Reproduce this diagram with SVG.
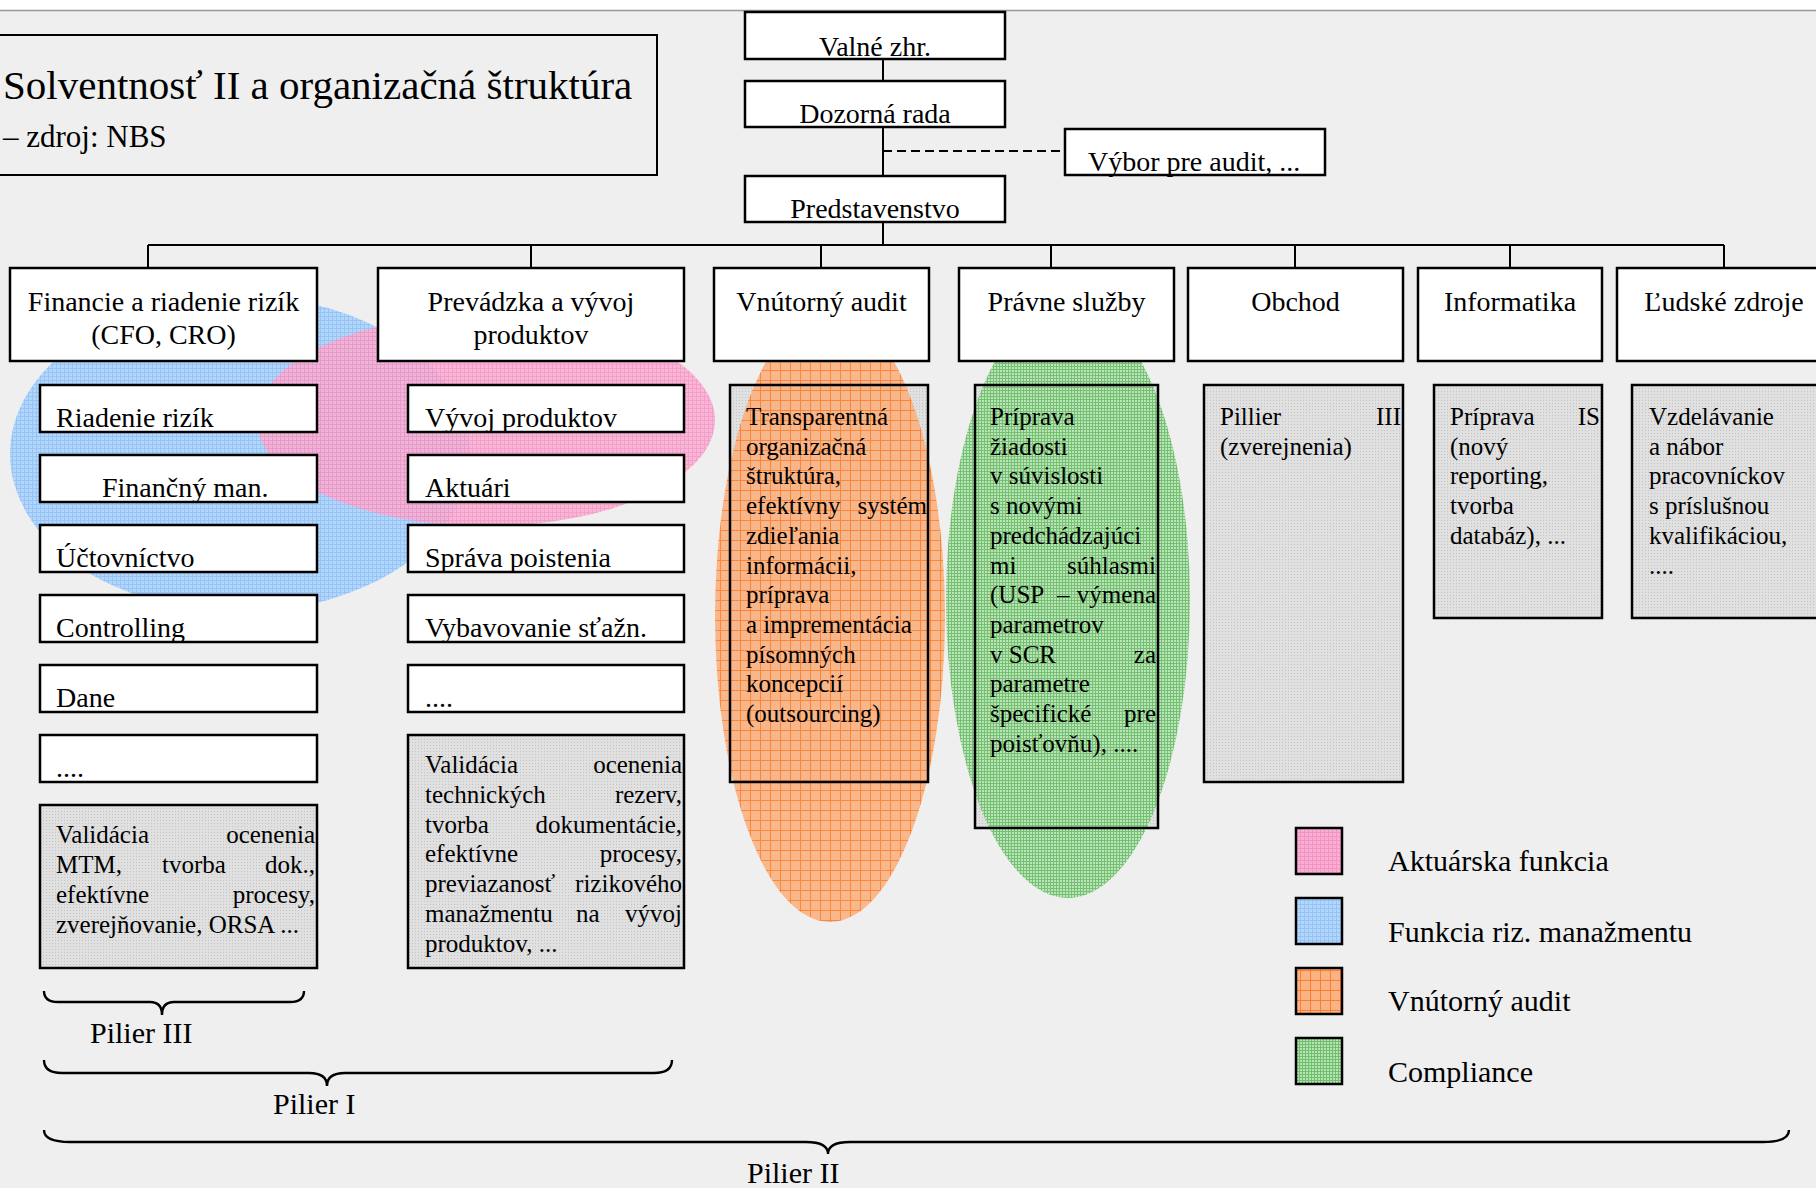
<svg xmlns="http://www.w3.org/2000/svg" width="1816" height="1188" viewBox="0 0 1816 1188">
<defs>
<pattern id="pBlue" patternUnits="userSpaceOnUse" width="4" height="4"><rect width="4" height="4" fill="#b2d6fc"/><path d="M0 0.5H4M0.5 0V4" stroke="#98c4f5" stroke-width="1"/></pattern>
<pattern id="pPink" patternUnits="userSpaceOnUse" width="4" height="4"><rect width="4" height="4" fill="#f9afd3"/><path d="M0 0.5H4M0.5 0V4" stroke="#f394c3" stroke-width="1"/></pattern>
<pattern id="pOrange" patternUnits="userSpaceOnUse" width="10" height="10"><rect width="10" height="10" fill="#fab385"/><path d="M0 0.5H10M0.5 0V10" stroke="#fb7f2e" stroke-width="1"/></pattern>
<pattern id="pGreen" patternUnits="userSpaceOnUse" width="3" height="3"><rect width="3" height="3" fill="#b9e2b6"/><path d="M0 0.5H3M0.5 0V3" stroke="#6fbf6c" stroke-width="1"/></pattern>
<pattern id="pGray" patternUnits="userSpaceOnUse" width="3" height="3"><rect width="3" height="3" fill="#e0e0e0"/><rect x="1" y="1" width="1" height="1" fill="#c4c4c4"/></pattern>
</defs>
<style>
.t{font-family:"Liberation Serif","Times New Roman",serif;fill:#000}
.h{font-size:28px}
.b{font-size:25px}
.l{font-size:30px}
.c{text-anchor:middle}
.e{text-anchor:end}
.box{fill:#fff;stroke:#000;stroke-width:2.5}
.gfill{fill:url(#pGray)}
.outl{fill:none;stroke:#000;stroke-width:2.5}
.conn{fill:none;stroke:#000;stroke-width:2}
.brace{fill:none;stroke:#000;stroke-width:2.4}
</style>
<rect width="1816" height="1188" fill="#efefef"/>
<rect width="1816" height="10" fill="#ffffff"/>
<line x1="0" y1="10.5" x2="1816" y2="10.5" stroke="#999" stroke-width="1.5"/>

<g id="title">
<rect x="-2" y="35" width="659" height="140" fill="none" stroke="#000" stroke-width="2"/>
<text class="t" x="3" y="99" font-size="41">Solventnosť II a organizačná štruktúra</text>
<text class="t" x="3" y="147" font-size="31">– zdroj: NBS</text>
</g>

<g id="functions-back">
<ellipse cx="240" cy="454" rx="230" ry="158" fill="url(#pBlue)"/>
<ellipse cx="486" cy="420" rx="229" ry="106" fill="url(#pPink)" opacity="0.88"/>
</g>

<g id="connectors">
<line class="conn" x1="883" y1="59" x2="883" y2="81"/>
<line class="conn" x1="883" y1="127" x2="883" y2="176"/>
<line class="conn" x1="883" y1="151" x2="1065" y2="151" stroke-dasharray="9 5"/>
<line class="conn" x1="883" y1="222" x2="883" y2="245"/>
<line class="conn" x1="148" y1="245" x2="1724" y2="245"/>
<path class="conn" d="M148 245V268M531 245V268M821 245V268M1051 245V268M1295 245V268M1510 245V268M1724 245V268"/>
</g>

<g id="n-valne">
<rect class="box" x="745" y="12" width="260" height="47"/>
<text class="t h c" x="875" y="56">Valné zhr.</text>
</g>
<g id="n-dozorna">
<rect class="box" x="745" y="81" width="260" height="46"/>
<text class="t h c" x="875" y="123">Dozorná rada</text>
</g>
<g id="n-vybor">
<rect class="box" x="1065" y="129" width="260" height="46"/>
<text class="t h" x="1088" y="171">Výbor pre audit, ...</text>
</g>
<g id="n-predstavenstvo">
<rect class="box" x="745" y="176" width="260" height="46"/>
<text class="t h c" x="875" y="218">Predstavenstvo</text>
</g>

<g id="n-audit-detail">
<rect class="gfill" x="730" y="385" width="198" height="397"/>
<ellipse cx="830" cy="616" rx="115" ry="306" fill="url(#pOrange)" opacity="0.93"/>
<rect class="outl" x="730" y="385" width="198" height="397"/>
<text class="t b" x="746" y="425">Transparentná</text>
<text class="t b" x="746" y="454.7">organizačná</text>
<text class="t b" x="746" y="484.4">štruktúra,</text>
<text class="t b" x="746" y="514.1">efektívny</text><text class="t b e" x="927" y="514.1">systém</text>
<text class="t b" x="746" y="543.8">zdieľania</text>
<text class="t b" x="746" y="573.5">informácii,</text>
<text class="t b" x="746" y="603.2">príprava</text>
<text class="t b" x="746" y="632.9">a imprementácia</text>
<text class="t b" x="746" y="662.6">písomných</text>
<text class="t b" x="746" y="692.3">koncepcií</text>
<text class="t b" x="746" y="722">(outsourcing)</text>
</g>

<g id="n-compliance-detail">
<rect class="gfill" x="975" y="385" width="183" height="443"/>
<ellipse cx="1068" cy="600" rx="122" ry="298" fill="url(#pGreen)" opacity="0.95"/>
<rect class="outl" x="975" y="385" width="183" height="443"/>
<text class="t b" x="990" y="425">Príprava</text>
<text class="t b" x="990" y="454.7">žiadosti</text>
<text class="t b" x="990" y="484.4">v súvislosti</text>
<text class="t b" x="990" y="514.1">s novými</text>
<text class="t b" x="990" y="543.8">predchádzajúci</text>
<text class="t b" x="990" y="573.5">mi</text><text class="t b e" x="1156" y="573.5">súhlasmi</text>
<text class="t b" x="990" y="603.2">(USP</text><text class="t b" x="1057" y="603.2">–</text><text class="t b e" x="1156" y="603.2">výmena</text>
<text class="t b" x="990" y="632.9">parametrov</text>
<text class="t b" x="990" y="662.6">v SCR</text><text class="t b e" x="1156" y="662.6">za</text>
<text class="t b" x="990" y="692.3">parametre</text>
<text class="t b" x="990" y="722">špecifické</text><text class="t b e" x="1156" y="722">pre</text>
<text class="t b" x="990" y="751.7">poisťovňu), ....</text>
</g>

<g id="n-financie">
<rect class="box" x="10" y="268" width="307" height="93"/>
<text class="t h c" x="163.5" y="311">Financie a riadenie rizík</text>
<text class="t h c" x="163.5" y="344">(CFO, CRO)</text>
</g>
<g id="n-prevadzka">
<rect class="box" x="378" y="268" width="306" height="93"/>
<text class="t h c" x="531" y="311">Prevádzka a vývoj</text>
<text class="t h c" x="531" y="344">produktov</text>
</g>
<g id="n-audit">
<rect class="box" x="714" y="268" width="215" height="93"/>
<text class="t h c" x="821.5" y="311">Vnútorný audit</text>
</g>
<g id="n-pravne">
<rect class="box" x="959" y="268" width="215" height="93"/>
<text class="t h c" x="1066.5" y="311">Právne služby</text>
</g>
<g id="n-obchod">
<rect class="box" x="1188" y="268" width="215" height="93"/>
<text class="t h c" x="1295.5" y="311">Obchod</text>
</g>
<g id="n-informatika">
<rect class="box" x="1418" y="268" width="184" height="93"/>
<text class="t h c" x="1510" y="311">Informatika</text>
</g>
<g id="n-ludske">
<rect class="box" x="1617" y="268" width="215" height="93"/>
<text class="t h c" x="1724" y="311">Ľudské zdroje</text>
</g>

<g id="n-riadenie"><rect class="box" x="40" y="385" width="277" height="47"/><text class="t h" x="56" y="427">Riadenie rizík</text></g>
<g id="n-financny"><rect class="box" x="40" y="455" width="277" height="47"/><text class="t h" x="102" y="497">Finančný man.</text></g>
<g id="n-uctovnictvo"><rect class="box" x="40" y="525" width="277" height="47"/><text class="t h" x="56" y="567">Účtovníctvo</text></g>
<g id="n-controlling"><rect class="box" x="40" y="595" width="277" height="47"/><text class="t h" x="56" y="637">Controlling</text></g>
<g id="n-dane"><rect class="box" x="40" y="665" width="277" height="47"/><text class="t h" x="56" y="707">Dane</text></g>
<g id="n-fin-more"><rect class="box" x="40" y="735" width="277" height="47"/><text class="t h" x="56" y="777">....</text></g>
<g id="n-fin-detail">
<rect class="gfill" x="40" y="805" width="277" height="163"/>
<rect class="outl" x="40" y="805" width="277" height="163"/>
<text class="t b" x="56" y="843">Validácia</text><text class="t b e" x="315" y="843">ocenenia</text>
<text class="t b" x="56" y="873">MTM,</text><text class="t b" x="162" y="873">tvorba</text><text class="t b e" x="315" y="873">dok.,</text>
<text class="t b" x="56" y="903">efektívne</text><text class="t b e" x="315" y="903">procesy,</text>
<text class="t b" x="56" y="933">zverejňovanie, ORSA ...</text>
</g>

<g id="n-vyvoj"><rect class="box" x="408" y="385" width="276" height="47"/><text class="t h" x="425" y="427">Vývoj produktov</text></g>
<g id="n-aktuari"><rect class="box" x="408" y="455" width="276" height="47"/><text class="t h" x="425" y="497">Aktuári</text></g>
<g id="n-sprava"><rect class="box" x="408" y="525" width="276" height="47"/><text class="t h" x="425" y="567">Správa poistenia</text></g>
<g id="n-vybavovanie"><rect class="box" x="408" y="595" width="276" height="47"/><text class="t h" x="425" y="637">Vybavovanie sťažn.</text></g>
<g id="n-prev-more"><rect class="box" x="408" y="665" width="276" height="47"/><text class="t h" x="425" y="707">....</text></g>
<g id="n-prev-detail">
<rect class="gfill" x="408" y="735" width="276" height="233"/>
<rect class="outl" x="408" y="735" width="276" height="233"/>
<text class="t b" x="425" y="773">Validácia</text><text class="t b e" x="682" y="773">ocenenia</text>
<text class="t b" x="425" y="803">technických</text><text class="t b e" x="682" y="803">rezerv,</text>
<text class="t b" x="425" y="833">tvorba</text><text class="t b e" x="682" y="833">dokumentácie,</text>
<text class="t b" x="425" y="862">efektívne</text><text class="t b e" x="682" y="862">procesy,</text>
<text class="t b" x="425" y="892">previazanosť</text><text class="t b e" x="682" y="892">rizikového</text>
<text class="t b" x="425" y="922">manažmentu</text><text class="t b" x="576" y="922">na</text><text class="t b e" x="682" y="922">vývoj</text>
<text class="t b" x="425" y="952">produktov, ...</text>
</g>

<g id="n-obchod-detail">
<rect class="gfill" x="1204" y="385" width="199" height="397"/>
<rect class="outl" x="1204" y="385" width="199" height="397"/>
<text class="t b" x="1220" y="425">Pillier</text><text class="t b e" x="1401" y="425">III</text>
<text class="t b" x="1220" y="454.7">(zverejnenia)</text>
</g>
<g id="n-informatika-detail">
<rect class="gfill" x="1434" y="385" width="168" height="233"/>
<rect class="outl" x="1434" y="385" width="168" height="233"/>
<text class="t b" x="1450" y="425">Príprava</text><text class="t b e" x="1600" y="425">IS</text>
<text class="t b" x="1450" y="454.7">(nový</text>
<text class="t b" x="1450" y="484.4">reporting,</text>
<text class="t b" x="1450" y="514.1">tvorba</text>
<text class="t b" x="1450" y="543.8">databáz), ...</text>
</g>
<g id="n-ludske-detail">
<rect class="gfill" x="1632" y="385" width="200" height="233"/>
<rect class="outl" x="1632" y="385" width="200" height="233"/>
<text class="t b" x="1649" y="425">Vzdelávanie</text>
<text class="t b" x="1649" y="454.7">a nábor</text>
<text class="t b" x="1649" y="484.4">pracovníckov</text>
<text class="t b" x="1649" y="514.1">s príslušnou</text>
<text class="t b" x="1649" y="543.8">kvalifikáciou,</text>
<text class="t b" x="1649" y="573.5">....</text>
</g>

<g id="legend">
<rect x="1296" y="828" width="46" height="46" fill="url(#pPink)" stroke="#000" stroke-width="2.5"/>
<text class="t l" x="1388" y="871">Aktuárska funkcia</text>
<rect x="1296" y="898" width="46" height="46" fill="url(#pBlue)" stroke="#000" stroke-width="2.5"/>
<text class="t l" x="1388" y="942">Funkcia riz. manažmentu</text>
<rect x="1296" y="968" width="46" height="46" fill="url(#pOrange)" stroke="#000" stroke-width="2.5"/>
<text class="t l" x="1388" y="1011">Vnútorný audit</text>
<rect x="1296" y="1038" width="46" height="46" fill="url(#pGreen)" stroke="#000" stroke-width="2.5"/>
<text class="t l" x="1388" y="1082">Compliance</text>
</g>

<g id="braces">
<path class="brace" d="M44 991Q44 1002 58 1002L150 1002Q162 1002 162 1015Q162 1002 174 1002L290 1002Q304 1002 304 991"/>
<text class="t l" x="90" y="1043">Pilier III</text>
<path class="brace" d="M44 1060Q44 1073 62 1073L309 1073Q327 1073 327 1086Q327 1073 345 1073L654 1073Q672 1073 672 1060"/>
<text class="t l" x="273" y="1114">Pilier I</text>
<path class="brace" d="M44 1130Q44 1142 70 1142L806 1142Q828 1142 828 1154Q828 1142 850 1142L1763 1142Q1789 1142 1789 1130"/>
<text class="t l" x="747" y="1183">Pilier II</text>
</g>
</svg>
